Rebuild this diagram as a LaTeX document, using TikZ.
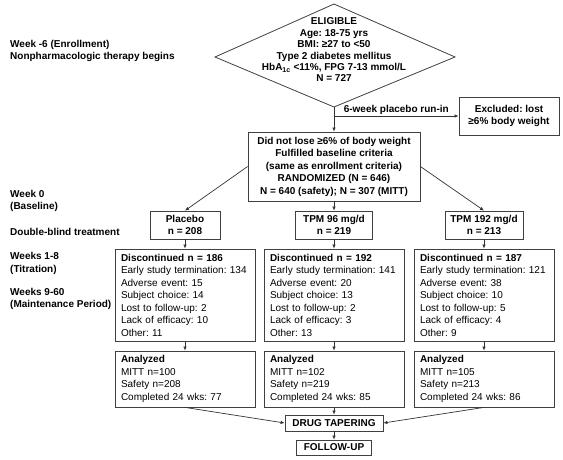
\documentclass[tikz,border=0pt]{standalone}
\usepackage{fontspec}
\setmainfont{Liberation Sans}
\usetikzlibrary{arrows.meta,positioning}
\frenchspacing

\begin{document}
\begin{tikzpicture}[x=1pt,y=-1pt,
        every node/.style={font=\fontsize{10}{12.5}\selectfont, text=black},
        box/.style={draw=black!75, line width=0.8pt, inner sep=1pt, align=center,
            font=\fontsize{10}{12.5}\selectfont\bfseries},
        listbox/.style={draw=black!75, line width=0.8pt, inner xsep=6pt, inner ysep=0pt,
            minimum width=140pt, text width=128pt, align=left},
        stage/.style={anchor=west, align=left, inner xsep=0pt, font=\fontsize{10}{12.5}\selectfont\bfseries},
        arrow/.style={draw=black!80, line width=0.7pt, -{Latex[length=4pt,width=3.5pt]}},
    ]
        \def\xM{334}                                % centre of the main column
        \def\xP{185}                                % placebo column
        \def\xT{484}                                % TPM 192 column

        \useasboundingbox (0,0) rectangle (563,459);

        % Study periods on the left-hand side
        \node[stage] (enrol) at (10,51) {Week -6 (Enrollment)\\Nonpharmacologic therapy begins};
        \node[stage] (base) at (10,201) {Week 0\\(Baseline)};
        \node[stage] (blind) at (10,232) {Double-blind treatment};
        \node[stage] (titr) at (10,263.5) {Weeks 1-8\\(Titration)};
        \node[stage] (maint) at (10,299) {Weeks 9-60\\(Maintenance Period)};

        % Eligibility diamond (the text runs over its edges)
        \draw[draw=black!75, line width=0.8pt] (\xM,4) -- (455,57) -- (\xM,107) -- (215,57) -- cycle;
        \coordinate (eligS) at (\xM,107);
        \coordinate (runin) at (\xM,116);
        \node[font=\fontsize{10}{11.4}\selectfont\bfseries, align=center] (elig) at (\xM,50)
            {ELIGIBLE\\Age: 18-75 yrs\\BMI: ≥27 to <50\\Type 2 diabetes mellitus\\
             HbA\textsubscript{1c} <11\%, FPG 7-13 mmol/L\\N = 727};

        % Run-in and randomization
        \node[box, minimum width=100pt, minimum height=38pt] (excl) at (509,116)
            {Excluded: lost\\≥6\% body weight};
        \node[box, minimum width=172pt, minimum height=69pt] (rand) at (\xM,166.5)
            {Did not lose ≥6\% of body weight\\Fulfilled baseline criteria\\(same as enrollment criteria)\\
             RANDOMIZED (N = 646)\\N = 640 (safety); N = 307 (MITT)};

        \draw[arrow] (eligS) -- (rand);
        \draw[arrow] (runin) -- node[above, font=\fontsize{10}{12}\selectfont\bfseries, inner sep=1.5pt]
            {6-week placebo run-in} (excl);

        % Treatment arms
        \node[box, minimum width=70pt, minimum height=28pt] (plac) at (\xP,225) {Placebo\\n = 208};
        \node[box, minimum width=77pt, minimum height=28pt] (tpmA) at (\xM,225) {TPM 96 mg/d\\n = 219};
        \node[box, minimum width=78pt, minimum height=28pt] (tpmB) at (\xT,225) {TPM 192 mg/d\\n = 213};

        \draw[arrow] (rand.west) -- (plac.north);
        \draw[arrow] (rand) -- (tpmA);
        \draw[arrow] (rand.east) -- (tpmB.north);

        % Discontinuations
        \node[listbox, minimum height=92pt] (discP) at (\xP,295)
            {\textbf{Discontinued n = 186}\\Early study termination: 134\\Adverse event: 15\\
             Subject choice: 14\\Lost to follow-up: 2\\Lack of efficacy: 10\\Other: 11};
        \node[listbox, minimum height=92pt] (discA) at (\xM,295)
            {\textbf{Discontinued n = 192}\\Early study termination: 141\\Adverse event: 20\\
             Subject choice: 13\\Lost to follow-up: 2\\Lack of efficacy: 3\\Other: 13};
        \node[listbox, minimum height=92pt] (discB) at (\xT,295)
            {\textbf{Discontinued n = 187}\\Early study termination: 121\\Adverse event: 38\\
             Subject choice: 10\\Lost to follow-up: 5\\Lack of efficacy: 4\\Other: 9};

        % Analyzed populations
        \node[listbox, minimum height=56pt] (anaP) at (\xP,379)
            {\textbf{Analyzed}\\MITT n=100\\Safety n=208\\Completed 24 wks: 77};
        \node[listbox, minimum height=56pt] (anaA) at (\xM,379)
            {\textbf{Analyzed}\\MITT n=102\\Safety n=219\\Completed 24 wks: 85};
        \node[listbox, minimum height=56pt] (anaB) at (\xT,379)
            {\textbf{Analyzed}\\MITT n=105\\Safety n=213\\Completed 24 wks: 86};

        \draw[arrow] (plac) -- (discP);
        \draw[arrow] (tpmA) -- (discA);
        \draw[arrow] (tpmB) -- (discB);
        \draw[arrow] (discP) -- (anaP);
        \draw[arrow] (discA) -- (anaA);
        \draw[arrow] (discB) -- (anaB);

        % End of study
        \node[box, minimum width=98pt, minimum height=16pt, inner sep=0pt] (taper) at (\xM,423) {DRUG TAPERING};
        \node[box, minimum width=75pt, minimum height=15pt, inner sep=0pt] (follow) at (\xM,447.5) {FOLLOW-UP};

        \draw[arrow] (anaP.south) -- (taper.west);
        \draw[arrow] (anaA) -- (taper);
        \draw[arrow] (anaB.south) -- (taper.east);
        \draw[arrow] (taper) -- (follow);
    \end{tikzpicture}
\end{document}
